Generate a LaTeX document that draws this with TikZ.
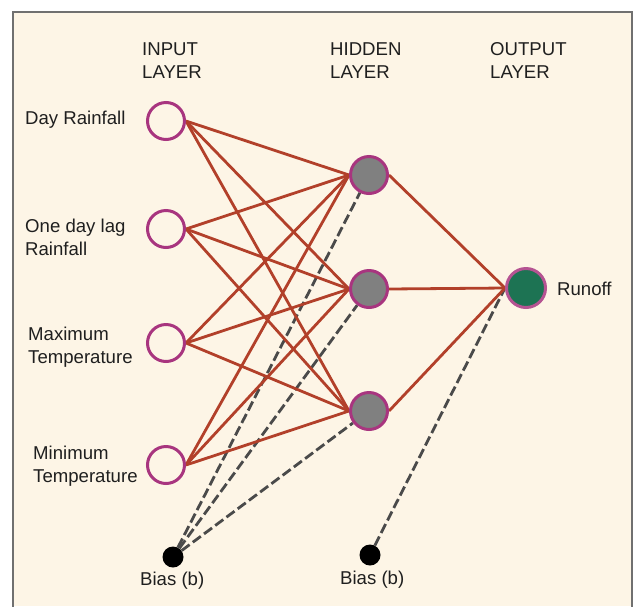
\documentclass[tikz,border=0pt]{standalone}
\usepackage{fontspec}
\setmainfont{Liberation Sans}
\usetikzlibrary{backgrounds}
\definecolor{bgc}{HTML}{FDF5E6}
\definecolor{framec}{HTML}{707070}
\definecolor{rimc}{HTML}{A8357F}
\definecolor{edgec}{HTML}{B2402A}
\definecolor{hidc}{HTML}{808080}
\definecolor{outc}{HTML}{1D7353}
\definecolor{dashc}{HTML}{4A4A4A}
\begin{document}
\begin{tikzpicture}[x=1pt,y=-1pt,
  lbl/.style={font=\fontsize{18.6}{23}\selectfont, align=left, anchor=west, inner sep=0pt, text=black!88},
  innode/.style={circle, draw=rimc, line width=3pt, fill=bgc, minimum size=37pt, inner sep=0pt},
  hidnode/.style={circle, draw=rimc, line width=3pt, fill=hidc, minimum size=37pt, inner sep=0pt},
  outnode/.style={circle, draw=rimc!85, line width=3pt, fill=outc, minimum size=39pt, inner sep=0pt},
  biasnode/.style={circle, fill=black, minimum size=21pt, inner sep=0pt},
  wedge/.style={draw=edgec, line width=2.8pt},
  bedge/.style={draw=dashc, line width=2.8pt, dash pattern=on 10pt off 4pt}
]
\useasboundingbox (0,0) rectangle (634,606);

% layer titles
\node[lbl] (tin) at (142,61) {INPUT\\LAYER};
\node[lbl] (thid) at (330,61) {HIDDEN\\LAYER};
\node[lbl] (tout) at (490,61) {OUTPUT\\LAYER};

% nodes
\node[innode] (i1) at (166,121) {};
\node[innode] (i2) at (166,229) {};
\node[innode] (i3) at (166,343) {};
\node[innode] (i4) at (166,465) {};
\node[hidnode] (h1) at (369,175) {};
\node[hidnode] (h2) at (369,289) {};
\node[hidnode] (h3) at (369,411) {};
\node[outnode] (o) at (526,288) {};
\node[biasnode] (b1) at (173,557) {};
\node[biasnode] (b2) at (370,555) {};

% labels
\node[lbl] (l1) at (25,120) {Day Rainfall};
\node[lbl] (l2) at (25,237) {One day lag\\Rainfall};
\node[lbl] (l3) at (28,347) {Maximum\\Temperature};
\node[lbl] (l4) at (33,466) {Minimum\\Temperature};
\node[lbl] (lb1) at (140,581) {Bias (b)};
\node[lbl] (lb2) at (340,580) {Bias (b)};
\node[lbl] (lr) at (557,289) {Runoff};

\begin{pgfonlayer}{background}
\fill[white] (0,0) rectangle (634,606);
\fill[bgc] (13,12) rectangle (632,606);
\draw[framec, line width=2.5pt] (13,610) -- (13,12) -- (632,12) -- (632,610);
% bias edges
\foreach \h in {h1,h2,h3} \draw[bedge] (b1) -- (\h);
\draw[bedge] (b2) -- (o.west);
% weight edges
\foreach \i in {i1,i2,i3,i4}
  \foreach \h in {h1,h2,h3}
    \draw[wedge] (\i.east) -- (\h.west);
\foreach \h in {h1,h2,h3} \draw[wedge] (\h.east) -- (o.west);
\end{pgfonlayer}
\end{tikzpicture}
\end{document}
